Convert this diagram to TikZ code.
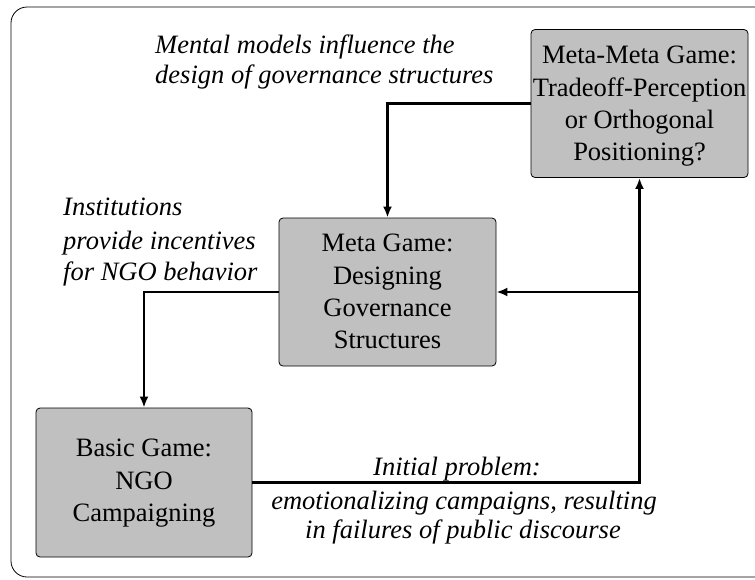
\documentclass[tikz,border=0pt]{standalone}
\usepackage{fontspec}
\newfontfamily\fa{Liberation Serif}
\usetikzlibrary{arrows.meta}
\begin{document}
\begin{tikzpicture}[x=1pt,y=-1pt,
  gamebox/.style={draw=black,line width=0.8pt,fill=boxgray,rounded corners=4pt,
    minimum width=217pt,minimum height=148pt,inner sep=0pt,font=\fa\fontsize{26.5}{32.5}\selectfont},
  lbl/.style={inner sep=0pt,font=\fa\fontsize{26.5}{31}\selectfont\itshape},
  arr/.style={line width=2.4pt,-{Latex[length=11pt,width=9pt]}}]
\definecolor{boxgray}{HTML}{C0C0C0}
\useasboundingbox (0,0) rectangle (755,579);
\draw[line width=0.8pt,rounded corners=16pt] (11,577) -- (11,7) -- (790,7) -- (790,577) -- cycle;
\node[gamebox] (mm) at (639.5,103.5) {};
\node[gamebox] (meta) at (387.5,292) {};
\node[gamebox,minimum width=216pt,minimum height=149pt] (basic) at (144,482.5) {};
\node[lbl,font=\fa\fontsize{26.5}{32}\selectfont,anchor=base] (mm1) at (639.5,63) {Meta-Meta Game:};
\node[lbl,font=\fa\fontsize{26.5}{32}\selectfont,anchor=base] (mm2) at (639.5,96) {Tradeoff-Perception};
\node[lbl,font=\fa\fontsize{26.5}{32}\selectfont,anchor=base] (mm3) at (639.5,128) {or Orthogonal};
\node[lbl,font=\fa\fontsize{26.5}{32}\selectfont,anchor=base] (mm4) at (639.5,160) {Positioning?};
\node[lbl,font=\fa\fontsize{26.5}{32}\selectfont,anchor=base] (me1) at (387.5,251) {Meta Game:};
\node[lbl,font=\fa\fontsize{26.5}{32}\selectfont,anchor=base] (me2) at (387.5,284) {Designing};
\node[lbl,font=\fa\fontsize{26.5}{32}\selectfont,anchor=base] (me3) at (387.5,316) {Governance};
\node[lbl,font=\fa\fontsize{26.5}{32}\selectfont,anchor=base] (me4) at (387.5,348) {Structures};
\node[lbl,font=\fa\fontsize{26.5}{32}\selectfont,anchor=base] (b1) at (144,456) {Basic Game:};
\node[lbl,font=\fa\fontsize{26.5}{32}\selectfont,anchor=base] (b2) at (144,489) {NGO};
\node[lbl,font=\fa\fontsize{26.5}{32}\selectfont,anchor=base] (b3) at (144,521) {Campaigning};
\node[lbl,anchor=base west] (lm1) at (155,53) {Mental models influence the};
\node[lbl,anchor=base west] (lm2) at (155,83) {design of governance structures};
\node[lbl,anchor=base west] (li1) at (63,215) {Institutions};
\node[lbl,anchor=base west] (li2) at (63,249) {provide incentives};
\node[lbl,anchor=base west] (li3) at (63,280) {for NGO behavior};
\node[lbl,anchor=base] (lp1) at (457,475) {Initial problem:};
\node[lbl,anchor=base] (lp2) at (464,509) {emotionalizing campaigns, resulting};
\node[lbl,anchor=base] (lp3) at (463,538) {in failures of public discourse};
\draw[arr] (mm.west) -| (meta.north);
\draw[arr] (meta.west) -| (basic.north);
\draw[arr] (basic.east) -| (mm.south);
\coordinate (junc) at (mm.south |- meta.east);
\draw[arr] (junc) -- (meta.east);
\end{tikzpicture}
\end{document}
